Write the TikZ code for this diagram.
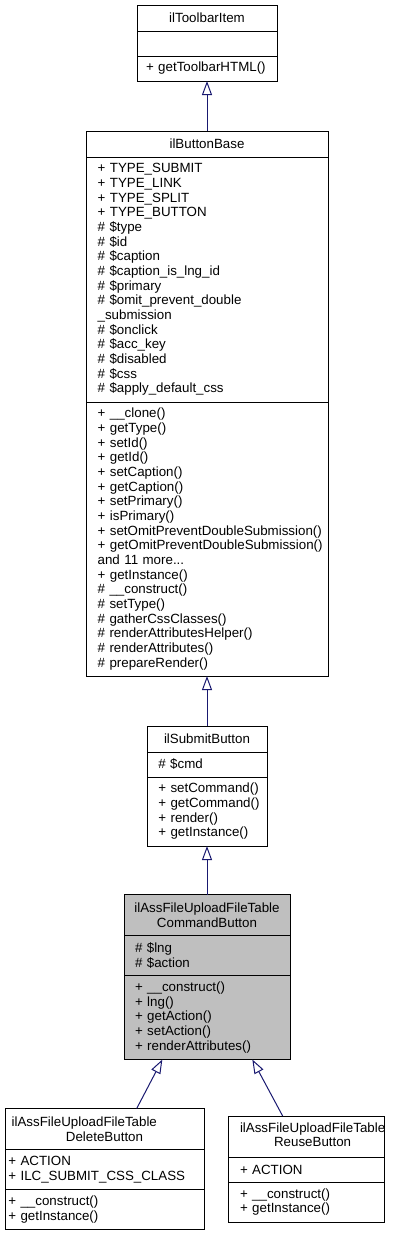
\documentclass[tikz,border=0pt]{standalone}
\usepackage{fontspec}
\setmainfont{Liberation Sans}
\usetikzlibrary{positioning}
\usetikzlibrary{arrows.meta}

\definecolor{edgeblue}{HTML}{191970}
\definecolor{focusgrey}{HTML}{BFBFBF}
\hyphenpenalty=10000
\exhyphenpenalty=10000

\begin{document}
\begin{tikzpicture}
[x=0.75pt,y=-0.75pt,
 every node/.style={draw,line width=0.75pt,outer sep=0pt,inner ysep=0pt,anchor=north,font=\fontsize{10}{11}\selectfont},
 ttl/.style={align=center},
 lst/.style={align=left},
 inh/.style={draw=edgeblue,line width=0.75pt,-{Triangle[open,length=10.5pt,width=7.5pt]}}]

  \useasboundingbox (0,0) rectangle (400,1235);

  \node (tbT) at (207,5) [ttl,minimum width=105pt,minimum height=19.5pt] {ilToolbarItem};
  \node (tbA) [below=0pt of tbT,minimum width=105pt,minimum height=18.75pt] {};
  \node (tbM) [lst,below=0pt of tbA,inner xsep=6.75pt,text width=91.5pt,minimum height=18.75pt] {+~getToolbarHTML()};

  \node (baseT) at (207,131) [ttl,minimum width=181.5pt,minimum height=19.5pt] {ilButtonBase};
  \node (baseA) [lst,below=0pt of baseT,inner xsep=8.75pt,text width=164pt,minimum height=183.75pt]
    {+~TYPE\_SUBMIT\\+~TYPE\_LINK\\+~TYPE\_SPLIT\\+~TYPE\_BUTTON\\\#~\$type\\\#~\$id\\\#~\$caption\\
     \#~\$caption\_is\_lng\_id\\\#~\$primary\\\#~\$omit\_prevent\_double\\\_submission\\\#~\$onclick\\
     \#~\$acc\_key\\\#~\$disabled\\\#~\$css\\\#~\$apply\_default\_css};
  \node (baseM) [lst,below=0pt of baseA,inner xsep=8.75pt,text width=164pt,minimum height=205.5pt]
    {+~\_\_clone()\\+~getType()\\+~setId()\\+~getId()\\+~setCaption()\\+~getCaption()\\+~setPrimary()\\
     +~isPrimary()\\+~setOmitPreventDoubleSubmission()\\+~getOmitPreventDoubleSubmission()\\and 11 more...\\
     +~getInstance()\\\#~\_\_construct()\\\#~setType()\\\#~gatherCssClasses()\\\#~renderAttributesHelper()\\
     \#~renderAttributes()\\\#~prepareRender()};

  \node (subT) at (207,726) [ttl,minimum width=90pt,minimum height=19.5pt] {ilSubmitButton};
  \node (subA) [lst,below=0pt of subT,inner xsep=8.5pt,text width=73pt,minimum height=18.75pt] {\#~\$cmd};
  \node (subM) [lst,below=0pt of subA,inner xsep=8.5pt,text width=73pt,minimum height=51.75pt]
    {+~setCommand()\\+~getCommand()\\+~render()\\+~getInstance()};

  \node (cmdT) at (207,894.5) [ttl,fill=focusgrey,minimum width=124.5pt,minimum height=30.75pt]
    {ilAssFileUploadFileTable\\CommandButton};
  \node (cmdA) [lst,fill=focusgrey,below=0pt of cmdT,inner xsep=8.25pt,text width=108pt,minimum height=30pt]
    {\#~\$lng\\\#~\$action};
  \node (cmdM) [lst,fill=focusgrey,below=0pt of cmdA,inner xsep=8.25pt,text width=108pt,minimum height=63pt]
    {+~\_\_construct()\\+~lng()\\+~getAction()\\+~setAction()\\+~renderAttributes()};

  \node (delT) at (104.5,1108.5) [inner xsep=5pt,text width=139.25pt,minimum height=30.75pt]
    {\parindent=0pt\raggedright ilAssFileUploadFileTable\par\centering DeleteButton\par};
  \node (delA) [lst,below=0pt of delT,inner xsep=2.5pt,text width=144.25pt,minimum height=30pt]
    {+~ACTION\\+~ILC\_SUBMIT\_CSS\_CLASS};
  \node (delM) [lst,below=0pt of delA,inner xsep=2.5pt,text width=144.25pt,minimum height=30pt]
    {+~\_\_construct()\\+~getInstance()};

  \node (reuT) at (306,1116) [inner xsep=9pt,minimum width=117pt,minimum height=30.75pt]
    {\makebox[99pt][l]{\begin{tabular}{@{}c@{}}ilAssFileUploadFileTable\\ReuseButton\end{tabular}}};
  \node (reuA) [lst,below=0pt of reuT,inner xsep=9pt,text width=99pt,minimum height=18.75pt] {+~ACTION};
  \node (reuM) [lst,below=0pt of reuA,inner xsep=9pt,text width=99pt,minimum height=30pt]
    {+~\_\_construct()\\+~getInstance()};

  \foreach \from/\to in {baseT/tbM, subT/baseM, cmdT/subM}
    \draw[inh] (\from.north) -- (\to.south);
  \draw[inh] ([xshift=24.15pt]delT.north) -- ([xshift=-33.5pt]cmdM.south);
  \draw[inh] ([xshift=-17.5pt]reuT.north) -- ([xshift=34pt]cmdM.south);

\end{tikzpicture}
\end{document}
